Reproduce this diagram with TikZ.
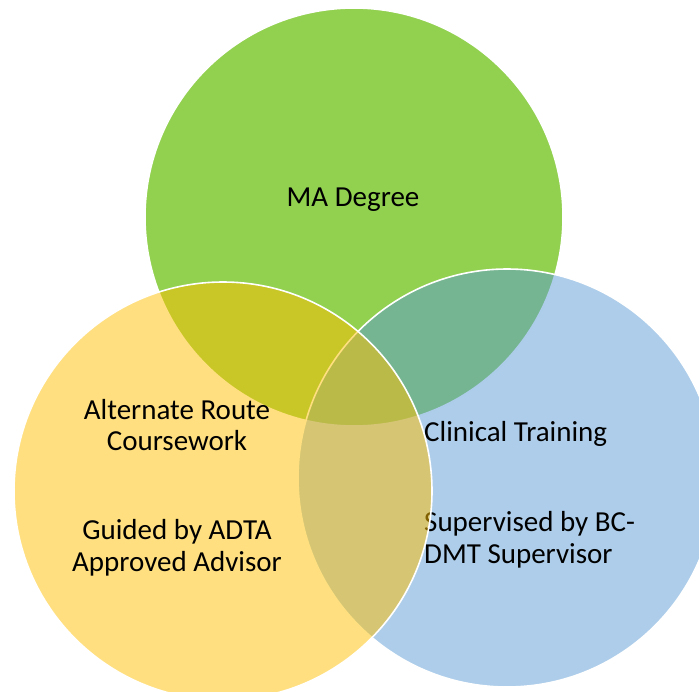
\documentclass[tikz,border=0pt]{standalone}
\usepackage{fontspec}
\setmainfont{Carlito}
\usepackage{xcolor}
\definecolor{magreen}{HTML}{92D050}
\definecolor{clinblue}{HTML}{5B9BD5}
\definecolor{altgold}{HTML}{FFC000}
\tikzset{
  venn/.style={circle, minimum size=418pt, inner sep=0pt, draw=white, line width=1.6pt},
  label/.style={font=\fontsize{29}{31.5}\selectfont, inner sep=0pt}
}
\begin{document}
\begin{tikzpicture}[x=1pt,y=-1pt]
            % Canvas
            \useasboundingbox (0,0) rectangle (699,691);
            \clip (0,0) rectangle (699,691);
            % Top circle
            \node (ma) [venn, fill=magreen] at (354,217) {};
            \node (matext) [label] at (353,200) {MA Degree};
            % Right circle, half transparent
            \node (clin) [venn, fill=clinblue, fill opacity=0.5] at (507,478) {};
            \node (clintext) [label, anchor=west, align=left] at (424,434) {Clinical Training};
            \node (suptext) [label, anchor=west, align=left] at (424,540) {Supervised by BC-\\DMT Supervisor};
            % Left circle, half transparent
            \node (alt) [venn, fill=altgold, fill opacity=0.5] at (223,491) {};
            \node (alttext) [label, align=center] at (177,425) {Alternate Route\\Coursework};
            \node (guidetext) [label, align=center] at (177,548) {Guided by ADTA\\Approved Advisor};
        \end{tikzpicture}
\end{document}
